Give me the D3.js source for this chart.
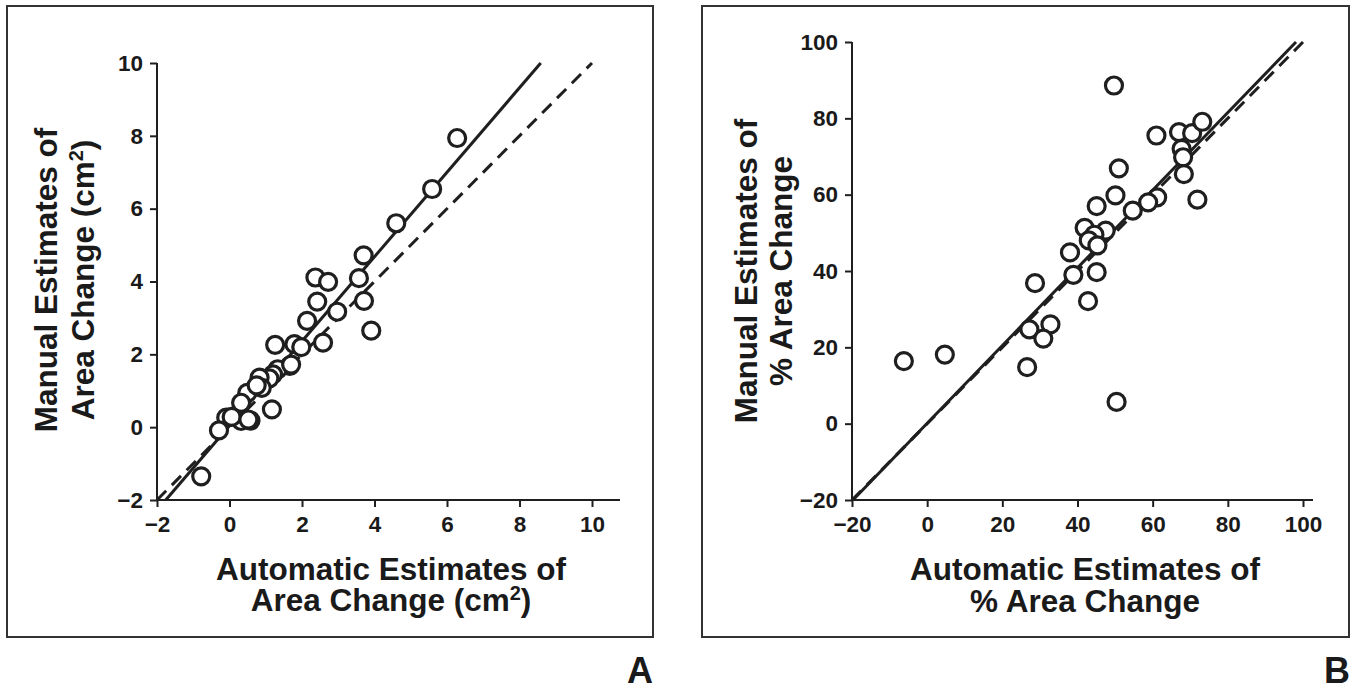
<!DOCTYPE html>
<html><head><meta charset="utf-8">
<script src="https://cdn.jsdelivr.net/npm/d3@7"></script>
<style>
body{margin:0;background:#fff;}
svg text{font-family:"Liberation Sans",Arial,Helvetica,sans-serif;font-weight:bold;fill:#1a1a1a;}
</style></head>
<body><svg id="c" width="1357" height="688"></svg>
<script>
// Panel A data (cm^2)
const autoA = [6.28,5.59,4.60,3.70,2.37,2.72,3.57,2.42,3.71,2.97,2.14,3.91,2.58,1.26,1.79,1.98,1.66,1.33,1.20,1.10,0.83,0.89,0.49,0.32,1.17,0.58,0.32,-0.09,0.06,-0.29,-0.78,0.52,1.70,0.75];
const manualA = [7.94,6.54,5.60,4.72,4.11,3.99,4.09,3.45,3.47,3.17,2.92,2.65,2.32,2.26,2.28,2.20,1.68,1.59,1.45,1.34,1.36,1.08,0.94,0.67,0.49,0.18,0.17,0.26,0.28,-0.09,-1.35,0.21,1.72,1.15];
const ticksA = [-2,0,2,4,6,8,10];
const fitA = [0.04, 1.16];      // intercept, slope (solid)
const identityA = [-2, 10];     // dashed line of identity

// Panel B data (% area change)
const autoB = [49.7,61.0,67.0,70.5,73.2,67.7,68.1,68.3,71.9,51.0,50.1,61.2,58.8,54.7,45.1,41.9,47.5,44.5,43.0,45.3,38.0,38.9,45.1,42.8,28.7,32.8,27.2,30.9,26.6,50.4,4.7,-6.2];
const manualB = [88.6,75.5,76.4,76.1,79.1,72.0,69.8,65.4,58.7,66.9,59.8,59.3,58.0,55.8,57.0,51.3,50.6,49.5,48.0,46.7,44.9,39.0,39.7,32.1,36.8,26.0,24.7,22.3,14.8,5.7,18.1,16.4];
const ticksB = [-20,0,20,40,60,80,100];
const fitB = [0.1, 1.018];
const identityB = [-20, 100];

const svg = d3.select("#c");
const ink = "#1f1f1f";

// panel frames
svg.append("rect").attr("x",7).attr("y",6).attr("width",646).attr("height",631)
  .attr("fill","none").attr("stroke","#333").attr("stroke-width",2);
svg.append("rect").attr("x",702).attr("y",6).attr("width",647).attr("height",631)
  .attr("fill","none").attr("stroke","#333").attr("stroke-width",2);

function panel(cfg){
  const x = d3.scaleLinear().domain(cfg.dom).range([cfg.x0, cfg.x1]);
  const y = d3.scaleLinear().domain(cfg.dom).range([cfg.y0, cfg.y1]);
  const g = svg.append("g");
  // x axis
  const xa = g.append("g").attr("transform",`translate(0,${cfg.y0})`)
    .call(d3.axisBottom(x).tickValues(cfg.ticks).tickSize(7).tickSizeOuter(0).tickPadding(9)
      .tickFormat(d=>d<0?"\u2212"+Math.abs(d):d));
  xa.select(".domain").remove();
  xa.selectAll("line").attr("stroke",ink).attr("stroke-width",2);
  xa.selectAll("text").attr("font-size",22.5).attr("fill",ink);
  g.append("line").attr("x1",x(cfg.dom[0])-1).attr("x2",cfg.xEnd).attr("y1",cfg.y0).attr("y2",cfg.y0)
    .attr("stroke",ink).attr("stroke-width",2);
  // y axis
  const ya = g.append("g").attr("transform",`translate(${cfg.x0},0)`)
    .call(d3.axisLeft(y).tickValues(cfg.ticks).tickSize(7).tickSizeOuter(0).tickPadding(7)
      .tickFormat(d=>d<0?"\u2212"+Math.abs(d):d));
  ya.select(".domain").remove();
  ya.selectAll("line").attr("stroke",ink).attr("stroke-width",2);
  ya.selectAll("text").attr("font-size",22.5).attr("fill",ink);
  g.append("line").attr("x1",cfg.x0).attr("x2",cfg.x0).attr("y1",cfg.y0+1).attr("y2",y(cfg.dom[1]))
    .attr("stroke",ink).attr("stroke-width",2);

  // identity dashed
  const id = cfg.identity;
  g.append("line").attr("x1",x(id[0])).attr("y1",y(id[0])).attr("x2",x(id[1])).attr("y2",y(id[1]))
    .attr("stroke",ink).attr("stroke-width",3).attr("stroke-dasharray","13,8");
  // regression solid, drawn between y = dom ends
  const [a,b] = cfg.fit;
  const yy0 = cfg.dom[0], yy1 = cfg.dom[1];
  g.append("line").attr("x1",x((yy0-a)/b)).attr("y1",y(yy0)).attr("x2",x((yy1-a)/b)).attr("y2",y(yy1))
    .attr("stroke",ink).attr("stroke-width",3);

  // points
  g.selectAll("circle.pt").data(cfg.xs.map((v,i)=>[v,cfg.ys[i]])).join("circle")
    .attr("class","pt").attr("cx",d=>x(d[0])).attr("cy",d=>y(d[1])).attr("r",8.5)
    .attr("fill","#fff").attr("stroke",ink).attr("stroke-width",3.2);

  // x title
  const xt = g.append("text").attr("text-anchor","middle").attr("font-size",31.5);
  cfg.xTitle.forEach((t,i)=>{
    xt.append("tspan").attr("x",cfg.xTitleX).attr("y",cfg.xTitleY[i]).html(t);
  });
  // y title
  const yt = g.append("text").attr("text-anchor","middle").attr("font-size",31.5)
    .attr("transform",`rotate(-90)`);
  cfg.yTitle.forEach((t,i)=>{
    yt.append("tspan").attr("x",-cfg.yTitleY).attr("y",cfg.yTitleX[i]).html(t);
  });
}

const sup = "<tspan font-size='20' dy='-11'>2</tspan><tspan dy='11'>)</tspan>";
panel({dom:[-2,10], x0:157, x1:592, y0:500, y1:63, xEnd:620, ticks:ticksA,
  xs:autoA, ys:manualA, fit:fitA, identity:identityA,
  xTitle:["Automatic Estimates of","Area Change (cm"+sup],
  xTitleX:391, xTitleY:[580,611],
  yTitle:["Manual Estimates of","Area Change (cm"+sup],
  yTitleX:[57,94], yTitleY:280});

panel({dom:[-20,100], x0:852, x1:1303, y0:500, y1:42, xEnd:1313, ticks:ticksB,
  xs:autoB, ys:manualB, fit:fitB, identity:identityB,
  xTitle:["Automatic Estimates of","% Area Change"],
  xTitleX:1085, xTitleY:[580,612],
  yTitle:["Manual Estimates of","% Area Change"],
  yTitleX:[757,792], yTitleY:271});

svg.append("text").attr("x",640).attr("y",683).attr("text-anchor","middle").attr("font-size",36).text("A");
svg.append("text").attr("x",1337).attr("y",683).attr("text-anchor","middle").attr("font-size",36).text("B");
</script></body></html>
